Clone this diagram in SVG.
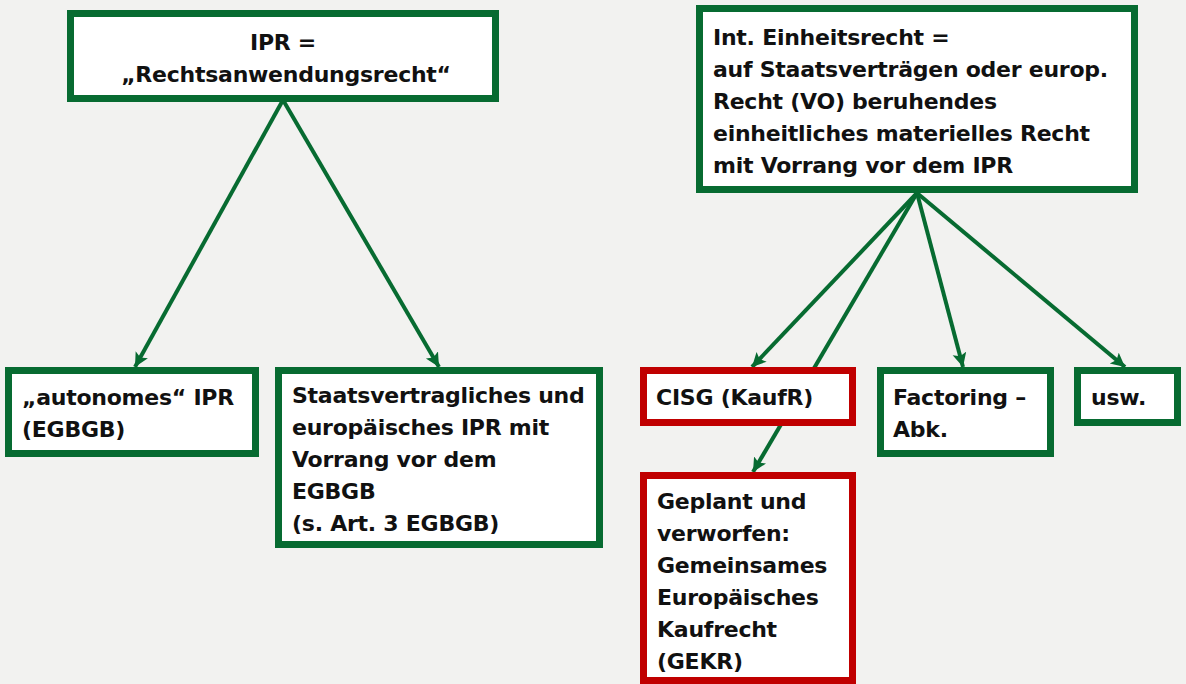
<svg xmlns="http://www.w3.org/2000/svg" width="1186" height="684" viewBox="0 0 1186 684">
<style>
.bg{fill:#f2f2f0}
.g{fill:#fff;stroke:#076b31;stroke-width:7}
.r{fill:#fff;stroke:#c00000;stroke-width:7}
.c{stroke:#076b31;stroke-width:4;fill:none;marker-end:url(#ah)}
text{font-family:"DejaVu Sans","Liberation Sans",sans-serif;font-weight:bold;font-size:22px;letter-spacing:-0.25px;fill:#111}
</style>
<defs>
<marker id="ah" markerUnits="userSpaceOnUse" markerWidth="16" markerHeight="16" refX="14" refY="7" orient="auto">
<path d="M0,0 L14,7 L0,14 L3,7 z" fill="#076b31"/>
</marker>
</defs>
<rect class="bg" x="0" y="0" width="1186" height="684"/>
<g id="connectors">
<line class="c" x1="283" y1="100" x2="135" y2="367"/>
<line class="c" x1="283" y1="100" x2="439" y2="367"/>
<line class="c" x1="917" y1="193" x2="752" y2="367"/>
<line class="c" x1="917" y1="193" x2="753" y2="472"/>
<line class="c" x1="917" y1="193" x2="963" y2="367"/>
<line class="c" x1="917" y1="193" x2="1125" y2="367"/>
</g>
<g id="ipr">
<rect class="g" x="70.5" y="13.5" width="425" height="85"/>
<text x="283" y="50" text-anchor="middle">IPR =</text>
<text x="286" y="82" text-anchor="middle">„Rechtsanwendungsrecht“</text>
</g>
<g id="einheitsrecht">
<rect class="g" x="699.5" y="8.5" width="435" height="181"/>
<text x="713" y="45">Int. Einheitsrecht =</text>
<text x="713" y="77">auf Staatsverträgen oder europ.</text>
<text x="713" y="109">Recht (VO) beruhendes</text>
<text x="713" y="141">einheitliches materielles Recht</text>
<text x="713" y="173">mit Vorrang vor dem IPR</text>
</g>
<g id="autonomes">
<rect class="g" x="8.5" y="370.5" width="247" height="83"/>
<text x="22" y="405">„autonomes“ IPR</text>
<text x="22" y="437">(EGBGB)</text>
</g>
<g id="staatsvertraglich">
<rect class="g" x="278.5" y="370.5" width="321" height="174"/>
<text x="292" y="403">Staatsvertragliches und</text>
<text x="292" y="435">europäisches IPR mit</text>
<text x="292" y="467">Vorrang vor dem</text>
<text x="292" y="499">EGBGB</text>
<text x="292" y="531">(s. Art. 3 EGBGB)</text>
</g>
<g id="cisg">
<rect class="r" x="643.5" y="370.5" width="209" height="52"/>
<text x="656" y="405">CISG (KaufR)</text>
</g>
<g id="factoring">
<rect class="g" x="880.5" y="370.5" width="170" height="83"/>
<text x="893" y="405">Factoring –</text>
<text x="893" y="437">Abk.</text>
</g>
<g id="usw">
<rect class="g" x="1077.5" y="370.5" width="100" height="52"/>
<text x="1091" y="405">usw.</text>
</g>
<g id="gekr">
<rect class="r" x="643.5" y="475.5" width="209" height="205"/>
<text x="657" y="509">Geplant und</text>
<text x="657" y="541">verworfen:</text>
<text x="657" y="573">Gemeinsames</text>
<text x="657" y="605">Europäisches</text>
<text x="657" y="637">Kaufrecht</text>
<text x="657" y="669">(GEKR)</text>
</g>
</svg>
